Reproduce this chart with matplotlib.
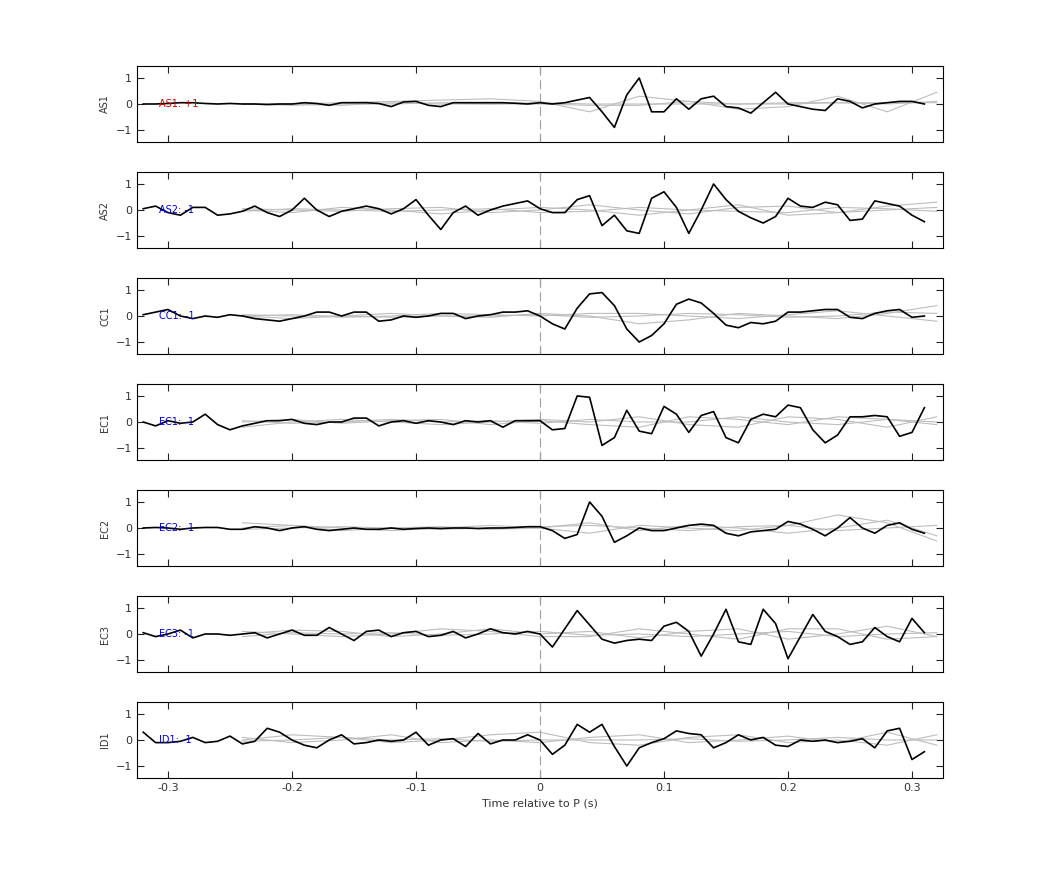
import numpy as np
import matplotlib
matplotlib.use("Agg")
import matplotlib.pyplot as plt

t_black = np.round(np.arange(-0.32, 0.315, 0.01), 2)
t_gray = np.round(np.arange(-0.24, 0.325, 0.04), 2)

names = ["AS1", "AS2", "CC1", "EC1", "EC2", "EC3", "ID1"]
polarity = ["+1", "-1", "-1", "-1", "-1", "-1", "-1"]
label_colors = ["#d00000", "#0000cc", "#0000cc", "#0000cc", "#0000cc", "#0000cc", "#0000cc"]

AS1 = [0,0,0.02,0.05,0.05,0.02,0,0.02,0,0,-0.02,0,0,0.05,0.02,-0.05,0.05,0.05,0.05,0.02,-0.1,0.08,0.1,-0.05,-0.1,0.05,0.05,0.05,0.05,0.05,0.03,0.0,
       0.05,0.0,0.05,0.15,0.25,-0.3,-0.9,0.35,1.0,-0.3,-0.3,0.2,-0.2,0.2,0.3,-0.1,-0.15,-0.35,0.05,0.45,0.0,-0.1,-0.2,-0.25,0.2,0.1,-0.15,0.0,0.05,0.1,0.1,0.0]
AS2 = [0.05,0.15,-0.1,-0.2,0.1,0.1,-0.2,-0.15,-0.05,0.15,-0.1,-0.25,0.0,0.45,0.0,-0.25,-0.05,0.05,0.15,0.05,-0.15,0.05,0.4,-0.2,-0.75,-0.1,0.15,-0.2,0.0,0.15,0.25,0.35,
       0.05,-0.1,-0.1,0.4,0.55,-0.6,-0.2,-0.8,-0.9,0.45,0.7,0.1,-0.9,0.0,1.0,0.4,-0.05,-0.3,-0.5,-0.25,0.45,0.15,0.1,0.3,0.2,-0.4,-0.35,0.35,0.25,0.15,-0.2,-0.45]
CC1 = [0.05,0.15,0.25,0.0,-0.1,0.0,-0.05,0.05,0.0,-0.1,-0.15,-0.2,-0.1,0.0,0.15,0.15,0.0,0.15,0.15,-0.2,-0.15,0.0,-0.05,0.0,0.1,0.1,-0.1,0.0,0.05,0.15,0.15,0.2,
       0.0,-0.3,-0.5,0.3,0.85,0.9,0.4,-0.5,-1.0,-0.75,-0.3,0.45,0.65,0.5,0.1,-0.35,-0.45,-0.25,-0.3,-0.2,0.15,0.15,0.2,0.25,0.25,-0.05,-0.1,0.1,0.2,0.25,-0.05,0.0]
EC1 = [0.0,-0.15,0.05,-0.05,0.0,0.3,-0.1,-0.3,-0.15,-0.05,0.05,0.05,0.1,-0.05,-0.1,0.0,0.0,0.15,0.15,-0.15,0.0,0.05,-0.05,0.05,0.0,-0.1,0.05,0.0,0.05,-0.2,0.05,0.05,
       0.05,-0.3,-0.25,1.0,0.95,-0.9,-0.6,0.45,-0.35,-0.45,0.6,0.3,-0.4,0.25,0.4,-0.6,-0.8,0.1,0.3,0.2,0.65,0.55,-0.3,-0.8,-0.5,0.2,0.2,0.25,0.2,-0.55,-0.4,0.55]
EC2 = [0,0.02,0,-0.05,0,0.02,0.02,-0.05,-0.05,0.05,0.0,-0.1,0,0.05,-0.05,-0.1,-0.05,0,-0.05,-0.05,0,-0.05,-0.02,0,-0.02,0,0,-0.02,0,0,0.02,0.05,
       0.05,-0.1,-0.4,-0.25,1.0,0.45,-0.55,-0.3,0.0,-0.1,-0.1,0.0,0.1,0.15,0.1,-0.2,-0.3,-0.15,-0.1,-0.05,0.25,0.15,-0.05,-0.3,0.0,0.4,0.0,-0.2,0.1,0.2,-0.05,-0.2]
EC3 = [0.05,-0.1,0.0,0.15,-0.15,0.0,0.0,-0.05,0.0,0.05,-0.15,0.0,0.15,-0.05,-0.05,0.25,0.0,-0.25,0.1,0.15,-0.1,0.05,0.1,-0.1,-0.05,0.1,-0.15,0.0,0.2,0.05,0.0,0.1,
       0.0,-0.5,0.2,0.9,0.35,-0.2,-0.35,-0.25,-0.2,-0.25,0.3,0.45,0.1,-0.85,0.0,0.95,-0.3,-0.4,0.95,0.4,-0.95,-0.1,0.75,0.1,-0.1,-0.4,-0.3,0.25,-0.1,-0.3,0.6,0.05]
ID1 = [0.3,-0.1,-0.1,-0.05,0.1,-0.1,-0.05,0.15,-0.15,-0.05,0.45,0.3,0.0,-0.2,-0.3,0.0,0.2,-0.15,-0.1,0.0,-0.05,0.0,0.3,-0.2,0.0,0.05,-0.25,0.25,-0.15,0.0,0.0,0.2,
       0.0,-0.55,-0.2,0.6,0.3,0.6,-0.25,-1.0,-0.3,-0.1,0.05,0.35,0.25,0.2,-0.3,-0.1,0.2,0.0,0.1,-0.2,-0.25,0.0,-0.05,0.0,-0.1,-0.05,0.05,-0.3,0.35,0.45,-0.75,-0.45]
black = [AS1, AS2, CC1, EC1, EC2, EC3, ID1]

# gray traces (15 samples each, -0.24 .. 0.32)
gray = [
    [[0.0,0.0,0.05,0.1,0.15,0.2,0.1,-0.3,0.3,0.1,-0.2,-0.1,0.3,-0.3,0.45],
     [0.0,-0.05,0.0,0.0,0.05,0.0,0.0,-0.05,-0.05,0.1,0.0,0.05,0.05,0.0,0.1],
     [0.0,0.0,-0.05,0.05,0.0,0.0,0.05,0.0,0.0,0.0,0.0,0.0,0.05,0.05,0.05]],
    [[0.0,-0.1,0.1,0.0,-0.15,0.0,0.1,0.0,-0.2,0.0,0.2,-0.2,-0.1,0.15,0.3],
     [0.05,0.0,-0.05,0.05,0.1,-0.1,0.0,0.2,0.0,-0.15,0.1,0.15,-0.1,0.0,0.1],
     [-0.05,0.05,0.0,-0.05,0.0,0.05,-0.1,-0.05,0.1,0.0,-0.05,-0.1,0.1,0.05,-0.05]],
    [[0.0,-0.1,0.0,0.1,0.0,-0.05,0.1,0.0,-0.3,-0.15,0.1,0.0,-0.1,0.1,0.4],
     [0.0,0.05,-0.05,0.0,0.1,0.05,0.0,0.1,0.1,0.0,-0.1,0.05,0.2,0.0,-0.2],
     [0.05,0.0,0.0,-0.05,0.0,0.0,0.05,-0.05,0.0,0.1,0.05,-0.05,0.0,0.15,0.1]],
    [[-0.2,0.0,0.1,0.0,-0.1,0.0,0.1,0.0,0.2,-0.1,-0.2,0.2,0.1,-0.2,0.2],
     [0.0,0.1,-0.05,0.05,0.1,-0.1,0.05,-0.1,-0.2,0.2,0.1,-0.1,0.2,0.1,-0.1],
     [0.05,-0.05,0.0,0.1,0.0,0.05,-0.05,0.1,0.0,0.0,0.2,0.0,-0.1,0.1,0.0]],
    [[0.2,0.1,0.0,-0.1,0.0,0.1,0.0,-0.2,0.1,0.0,-0.1,0.1,0.5,0.2,-0.5],
     [0.0,0.1,-0.1,0.0,0.05,-0.05,0.0,0.2,-0.1,0.1,0.0,-0.2,0.0,0.3,-0.3],
     [-0.05,0.0,0.05,0.0,-0.05,0.0,0.05,0.1,0.0,-0.1,0.05,0.1,-0.1,0.0,0.1]],
    [[0.1,0.0,-0.1,0.0,0.2,0.1,-0.1,-0.1,0.2,0.0,-0.2,0.2,0.2,-0.2,-0.1],
     [0.0,0.15,0.1,-0.1,0.0,0.2,0.0,0.1,-0.15,0.1,0.2,-0.2,0.0,0.3,-0.1],
     [-0.1,0.05,0.0,0.05,-0.05,0.0,0.1,-0.05,0.0,-0.1,0.0,0.1,-0.1,0.0,0.05]],
    [[0.0,0.2,0.1,-0.1,0.0,0.2,0.3,-0.1,-0.2,0.1,0.2,-0.1,0.0,-0.2,0.2],
     [0.1,-0.1,0.0,0.2,-0.1,0.0,-0.1,0.1,0.2,-0.1,0.0,0.15,-0.1,0.3,-0.2],
     [-0.05,0.0,0.1,0.0,0.05,-0.05,0.0,0.0,0.0,0.05,-0.05,0.0,0.1,0.0,0.0]],
]

fig = plt.figure(figsize=(10.42, 8.75), dpi=100)
W, H = 1042, 875
left, right = 137 / W, 943 / W
tops = [66 + 106 * i for i in range(7)]
for i, name in enumerate(names):
    top = tops[i]
    ax = fig.add_axes([left, 1 - (top + 76) / H, right - left, 76 / H])
    for g in gray[i]:
        ax.plot(t_gray, g, color="#bdbdbd", lw=0.8)
    ax.axvline(0, color="#a0a0a0", lw=0.8, dashes=(8, 4))
    ax.plot(t_black, black[i], color="black", lw=1.2)
    ax.text(-0.307, 0, f"{name}: {polarity[i]}", color=label_colors[i], fontsize=7, va="center")
    ax.set_xlim(-0.325, 0.325)
    ax.set_ylim(-1.46, 1.46)
    ax.set_yticks([-1, 0, 1])
    ax.set_xticks([-0.3, -0.2, -0.1, 0, 0.1, 0.2, 0.3])
    ax.tick_params(direction="in", top=True, right=True, labelsize=8, length=5,
                   color="#222222", labelcolor="#333333")
    ax.set_ylabel(name, fontsize=7, color="#333333")
    if i < 6:
        ax.set_xticklabels([])
    else:
        ax.set_xticklabels(["-0.3", "-0.2", "-0.1", "0", "0.1", "0.2", "0.3"])
        ax.set_xlabel("Time relative to P (s)", fontsize=8, color="#333333")
    for s in ax.spines.values():
        s.set_linewidth(0.8)

fig.savefig("out.png", dpi=100)
